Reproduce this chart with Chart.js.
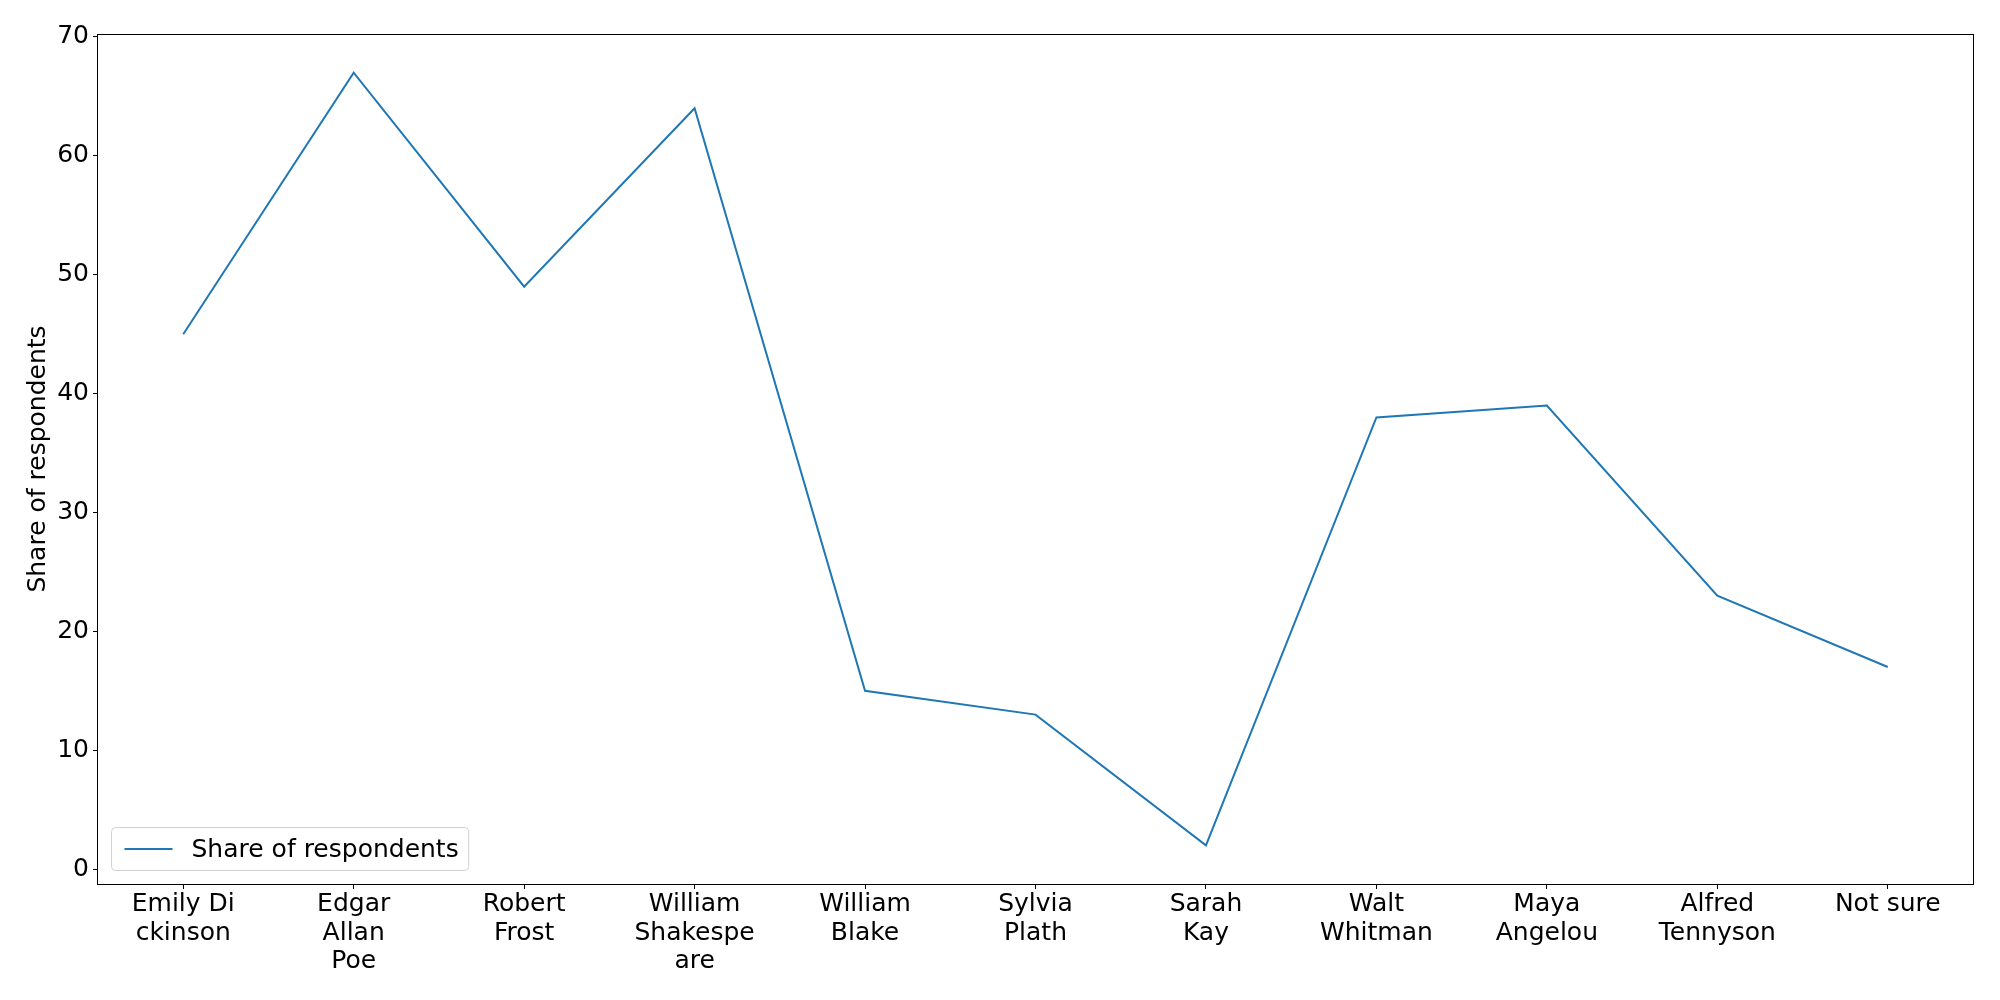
<!DOCTYPE html>
<html>
<head>
<meta charset="utf-8">
<script src="https://cdn.jsdelivr.net/npm/chart.js@4/dist/chart.umd.min.js"></script>
<style>
  html, body { margin: 0; padding: 0; background: #fff; }
  #wrap { width: 2000px; height: 1000px; }
</style>
</head>
<body>
<div id="wrap"><canvas id="poetChart" width="2000" height="1000"></canvas></div>
<script>
// categories (already wrapped the way the picture shows them)
var poets = [
  ["Emily Di", "ckinson"],
  ["Edgar", "Allan", "Poe"],
  ["Robert", "Frost"],
  ["William", "Shakespe", "are"],
  ["William", "Blake"],
  ["Sylvia", "Plath"],
  ["Sarah", "Kay"],
  ["Walt", "Whitman"],
  ["Maya", "Angelou"],
  ["Alfred", "Tennyson"],
  "Not sure"
];
var shareValues = [45, 67, 49, 64, 15, 13, 2, 38, 39, 23, 17];
var yTicks = [0, 10, 20, 30, 40, 50, 60, 70];
var seriesName = "Share of respondents";

var FONT = '"DejaVu Sans", sans-serif';
var FSIZE = 25;
var BLUE = '#1f77b4';

//FRAME ROUND THE PLOT AREA
var frame = {
  id: 'frame',
  afterDraw: function(chart) {
    var a = chart.chartArea;
    var c = chart.ctx;
    c.save();
    c.strokeStyle = '#000';
    c.lineWidth = 1;
    c.strokeRect(Math.round(a.left) - 0.5, Math.round(a.top) + 0.5,
                 Math.round(a.right - a.left) + 1, Math.round(a.bottom - a.top));
    c.restore();
  }
};

//LEGEND INSIDE, LOWER LEFT
var legendBox = {
  id: 'legendBox',
  afterDraw: function(chart) {
    var a = chart.chartArea;
    var c = chart.ctx;
    var ds = chart.data.datasets[0];
    c.save();
    c.font = FSIZE + 'px ' + FONT;
    var tw = c.measureText(ds.label).width;
    var x = Math.round(a.left) + 13.5;
    var h = 43;
    var y = Math.round(a.bottom) - 14 - h + 0.5;
    var w = 80 + tw + 10;
    c.beginPath();
    c.roundRect(x, y, w, h, 4);
    c.fillStyle = 'rgba(255,255,255,0.8)';
    c.fill();
    c.strokeStyle = '#d0d0d0';
    c.lineWidth = 1;
    c.stroke();
    c.beginPath();
    c.moveTo(x + 13, y + h / 2);
    c.lineTo(x + 61, y + h / 2);
    c.strokeStyle = ds.borderColor;
    c.lineWidth = 2;
    c.stroke();
    c.fillStyle = '#000';
    c.textBaseline = 'middle';
    c.fillText(ds.label, x + 80, y + h / 2 + 1);
    c.restore();
  }
};

var ctx = document.getElementById("poetChart").getContext('2d');
var poetChart = new Chart(ctx, {
  type: 'line',
  data: {
    labels: poets,
    datasets: [{
      label: seriesName,
      data: shareValues,
      borderColor: BLUE,
      backgroundColor: BLUE,
      borderWidth: 2,
      pointRadius: 0,
      pointHoverRadius: 0,
      tension: 0,
      fill: false
    }]
  },
  options: {
    animation: false,
    responsive: false,
    devicePixelRatio: 1,
    layout: { padding: { top: 34, right: 27, left: 0, bottom: 0 } },
    plugins: {
      legend: { display: false },
      tooltip: { enabled: false }
    },
    scales: {
      x: {
        type: 'category',
        offset: true,
        border: { display: false },
        grid: { display: true, offset: false, drawOnChartArea: false, drawTicks: true, tickLength: 5, color: '#000' },
        ticks: { color: '#000', font: { family: FONT, size: FSIZE, lineHeight: 1.15 }, padding: 1, maxRotation: 0, autoSkip: false },
        afterFit: function(s) { s.height = 116; }
      },
      y: {
        min: -1.25,
        max: 70.25,
        border: { display: false },
        grid: { display: true, drawOnChartArea: false, drawTicks: true, tickLength: 5, color: '#000' },
        ticks: { color: '#000', font: { family: FONT, size: FSIZE }, padding: 4 },
        afterBuildTicks: function(s) { s.ticks = yTicks.map(function(v) { return { value: v }; }); },
        title: { display: true, text: seriesName, color: '#000', font: { family: FONT, size: FSIZE }, padding: { top: 23, bottom: 0 } },
        afterFit: function(s) { s.width = 98; }
      }
    }
  },
  plugins: [frame, legendBox]
});
</script>
</body>
</html>
